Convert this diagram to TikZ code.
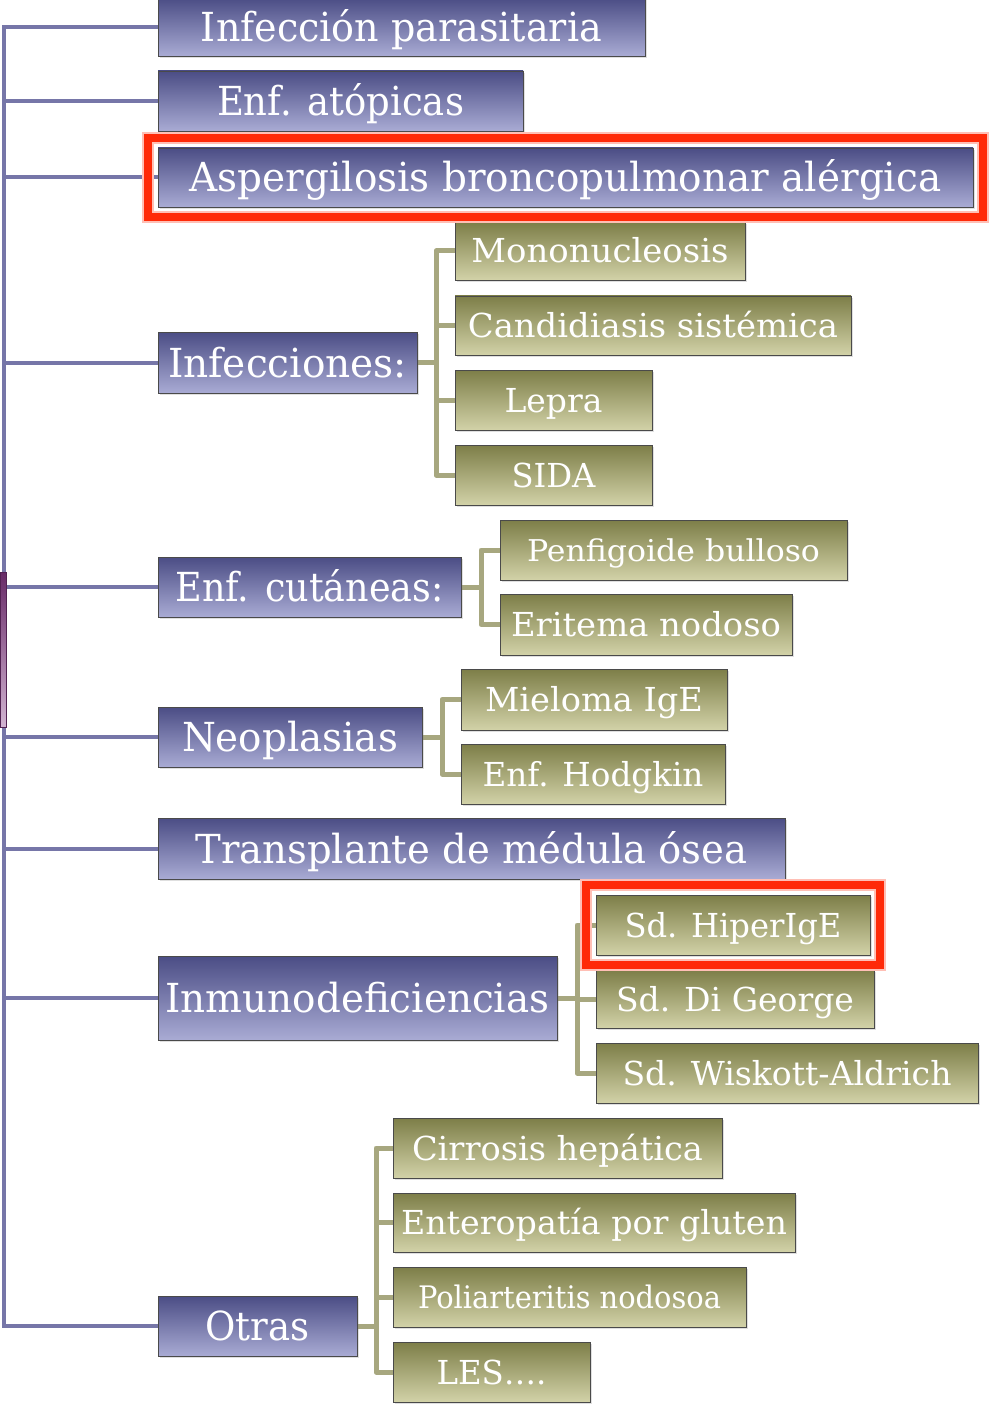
\documentclass[tikz,border=0pt]{standalone}
\usepackage{fontspec}
\setmainfont{DejaVu Serif}
\usepackage{graphicx}
\usetikzlibrary{shadows,backgrounds,fit}
\definecolor{bluetop}{HTML}{4B4D85}
\definecolor{bluebot}{HTML}{A9ABD4}
\definecolor{olivetop}{HTML}{7D7E48}
\definecolor{olivebot}{HTML}{D2D2A8}
\definecolor{boxedge}{HTML}{4A4A4A}
\definecolor{blueline}{HTML}{7676A8}
\definecolor{oliveline}{HTML}{A7A77F}
\definecolor{hlred}{HTML}{FF2A08}
\definecolor{purtop}{HTML}{672A67}
\definecolor{purbot}{HTML}{D2B4D2}
\newcommand{\fitx}[2]{\resizebox{#1pt}{\height}{#2}}
\begin{document}
\begin{tikzpicture}[x=1pt,y=-1pt,
  boxbase/.style={draw=boxedge, line width=0.8pt, inner sep=0pt, text=white,
    drop shadow={opacity=0.25, shadow xshift=2pt, shadow yshift=-2pt}},
  bluebox/.style={boxbase, top color=bluetop, bottom color=bluebot,
    font=\fontsize{40}{42}\selectfont, text height=29pt, text depth=0pt},
  olivebox/.style={boxbase, top color=olivetop, bottom color=olivebot,
    font=\fontsize{33}{35}\selectfont, text height=24pt, text depth=0pt},
  trunkline/.style={draw=blueline, line width=4pt},
  branchline/.style={draw=oliveline, line width=5pt, line join=round},
  redframe/.style={draw=hlred, line width=8pt, inner sep=10pt,
    preaction={draw=hlred!30!white, line width=12pt}},
  purplebar/.style={top color=purtop, bottom color=purbot, draw=purtop!80!black, line width=0.5pt, inner sep=0pt}
]
\useasboundingbox (0,0) rectangle (994,1404);

% level-1 boxes
\node[bluebox, minimum width=487pt, minimum height=58pt] (b1) at (401.5,27) {\fitx{401}{Infección parasitaria}};
\node[bluebox, minimum width=365pt, minimum height=60pt] (b2) at (340.5,101) {\fitx{247}{Enf. atópicas}};
\node[bluebox, minimum width=815pt, minimum height=59pt] (b3) at (565.5,177.5) {\fitx{752}{Aspergilosis broncopulmonar alérgica}};
\node[bluebox, minimum width=259pt, minimum height=61pt] (b4) at (287.5,362.5) {\fitx{239}{Infecciones:}};
\node[bluebox, minimum width=303pt, minimum height=60pt] (b5) at (309.5,587) {\fitx{268}{Enf. cutáneas:}};
\node[bluebox, minimum width=264pt, minimum height=60pt] (b6) at (290,737) {\fitx{216}{Neoplasias}};
\node[bluebox, minimum width=627pt, minimum height=61pt] (b7) at (471.5,848.5) {\fitx{552}{Transplante de médula ósea}};
\node[bluebox, minimum width=399pt, minimum height=84pt] (b8) at (357.5,998) {\fitx{384}{Inmunodeficiencias}};
\node[bluebox, minimum width=199pt, minimum height=60pt] (b9) at (257.5,1326) {\fitx{104}{Otras}};

% level-2 boxes
\node[olivebox, minimum width=290pt, minimum height=58pt] (c41) at (600,251) {\fitx{257}{Mononucleosis}};
\node[olivebox, minimum width=396pt, minimum height=59pt] (c42) at (653,325.5) {\fitx{370}{Candidiasis sistémica}};
\node[olivebox, minimum width=197pt, minimum height=60pt] (c43) at (553.5,400) {\fitx{98}{Lepra}};
\node[olivebox, minimum width=197pt, minimum height=60pt] (c44) at (553.5,475) {\fitx{84}{SIDA}};

\node[olivebox, minimum width=347pt, minimum height=60pt, font=\fontsize{30}{32}\selectfont, text height=22pt] (c51) at (673.5,550) {\fitx{293}{Penfigoide bulloso}};
\node[olivebox, minimum width=292pt, minimum height=61pt] (c52) at (646,624.5) {\fitx{270}{Eritema nodoso}};

\node[olivebox, minimum width=266pt, minimum height=61pt] (c61) at (594,699.5) {\fitx{218}{Mieloma IgE}};
\node[olivebox, minimum width=264pt, minimum height=60pt] (c62) at (593,774) {\fitx{221}{Enf. Hodgkin}};

\node[olivebox, minimum width=278pt, minimum height=58pt] (c82) at (735,999) {\fitx{238}{Sd. Di George}};
\node[olivebox, minimum width=274pt, minimum height=60pt] (c81) at (733,925) {\fitx{217}{Sd. HiperIgE}};
\node[olivebox, minimum width=382pt, minimum height=60pt] (c83) at (787,1073) {\fitx{329}{Sd. Wiskott-Aldrich}};

\node[olivebox, minimum width=329pt, minimum height=60pt] (c91) at (557.5,1148) {\fitx{291}{Cirrosis hepática}};
\node[olivebox, minimum width=402pt, minimum height=59pt] (c92) at (594,1222.5) {\fitx{386}{Enteropatía por gluten}};
\node[olivebox, minimum width=353pt, minimum height=60pt, font=\fontsize{31}{33}\selectfont, text height=23pt] (c93) at (569.5,1297) {\fitx{303}{Poliarteritis nodosoa}};
\node[olivebox, minimum width=197pt, minimum height=60pt] (c94) at (491.5,1372) {\fitx{110}{LES….}};

% junction coordinates
\coordinate (trunk) at (4,0);
\coordinate (j4) at (436,0);
\coordinate (j5) at (481,0);
\coordinate (j6) at (442,0);
\coordinate (j8) at (577,0);
\coordinate (j9) at (376,0);

\begin{scope}[on background layer]
  % main trunk
  \draw[trunkline] (b1.west) -- (b1.west -| trunk) -- (b9.west -| trunk) -- (b9.west);
  \foreach \b in {b2,b3,b4,b5,b6,b7,b8}
    \draw[trunkline] (\b.west) -- (\b.west -| trunk);
  % Infecciones
  \draw[branchline] (b4.east) -- (b4.east -| j4);
  \draw[branchline] (c41.west) -- (c41.west -| j4) -- (c44.west -| j4) -- (c44.west);
  \draw[branchline] (c42.west) -- (c42.west -| j4);
  \draw[branchline] (c43.west) -- (c43.west -| j4);
  % Enf. cutaneas
  \draw[branchline] (b5.east) -- (b5.east -| j5);
  \draw[branchline] (c51.west) -- (c51.west -| j5) -- (c52.west -| j5) -- (c52.west);
  % Neoplasias
  \draw[branchline] (b6.east) -- (b6.east -| j6);
  \draw[branchline] (c61.west) -- (c61.west -| j6) -- (c62.west -| j6) -- (c62.west);
  % Inmunodeficiencias
  \draw[branchline] (b8.east) -- (b8.east -| j8);
  \draw[branchline] (c81.west) -- (c81.west -| j8) -- (c83.west -| j8) -- (c83.west);
  \draw[branchline] (c82.west) -- (c82.west -| j8);
  % Otras
  \draw[branchline] (b9.east) -- (b9.east -| j9);
  \draw[branchline] (c91.west) -- (c91.west -| j9) -- (c94.west -| j9) -- (c94.west);
  \draw[branchline] (c92.west) -- (c92.west -| j9);
  \draw[branchline] (c93.west) -- (c93.west -| j9);
\end{scope}

% small purple bar on the left edge
\node[purplebar, minimum width=6pt, minimum height=155pt] (root) at (3,649.5) {};

% red highlight frames
\node[redframe, fit=(b3)] (hl1) {};
\node[redframe, fit=(c81)] (hl2) {};
\end{tikzpicture}
\end{document}
